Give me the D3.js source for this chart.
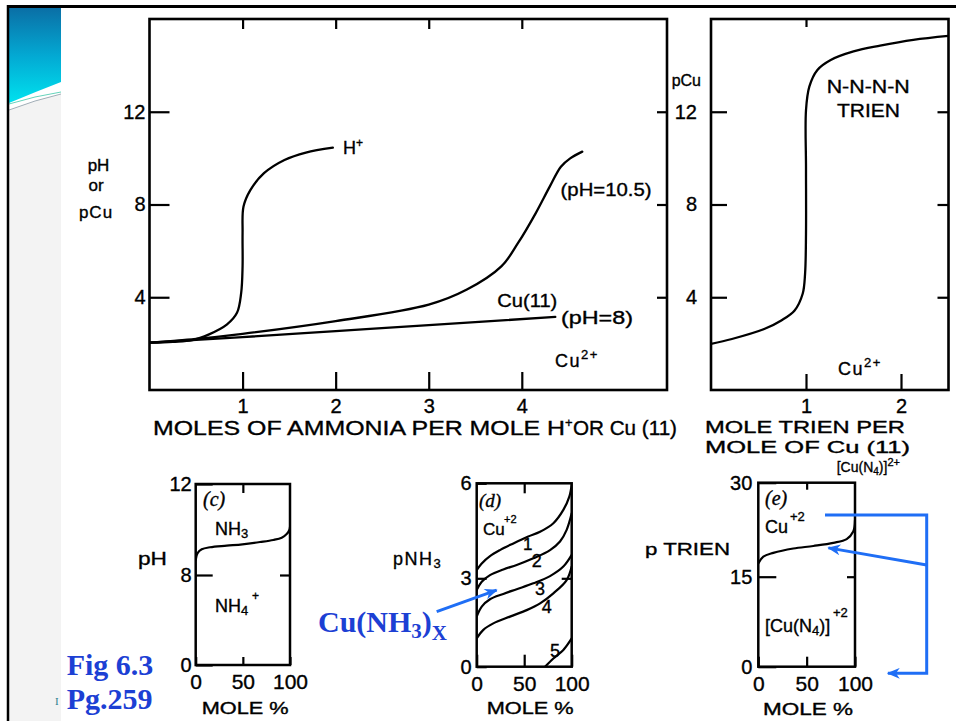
<!DOCTYPE html>
<html><head><meta charset="utf-8">
<script src="https://cdn.jsdelivr.net/npm/d3@7"></script>
<style>
html,body{margin:0;padding:0;background:#fff;}
svg{display:block;}
text{font-family:"Liberation Sans",Arial,Helvetica,sans-serif;fill:#000;stroke:#000;stroke-width:0.35px;}
</style></head><body>
<svg id="c" width="956" height="721"></svg>
<script>
// ---------------- DATA ----------------
// (a) titration curves, x = moles NH3 per mole H+ or Cu(II), y = pH or pCu
const mainXTicks = [1, 2, 3, 4];
const mainYTicks = [4, 8, 12];
const hPlusX = [0, 0.25, 0.46, 0.64, 0.83, 0.94, 0.985, 1.0, 1.0, 1.01, 1.085, 1.23, 1.45, 1.68, 1.97];
const hPlusY = [2.04, 2.08, 2.15, 2.4, 2.82, 3.33, 4.19, 5.33, 6.77, 7.91, 8.63, 9.35, 9.92, 10.24, 10.45];
const cuPh105X = [0, 0.5, 1.0, 2.0, 3.0, 3.41, 3.78, 3.96, 4.15, 4.3, 4.42, 4.52, 4.65];
const cuPh105Y = [2.04, 2.2, 2.42, 2.97, 3.68, 4.33, 5.33, 6.34, 7.63, 8.77, 9.63, 9.99, 10.28];
const cuPh8X = [0, 1, 2, 3, 4.36];
const cuPh8Y = [2.04, 2.28, 2.54, 2.8, 3.15];
// (b) trien titration
const trienXTicks = [1, 2];
const trienYTicks = [4, 8, 12];
const trienX = [0, 0.22, 0.56, 0.74, 0.88, 0.965, 0.99, 1.0, 1.0, 1.0, 1.035, 1.12, 1.26, 1.5, 1.78, 2.13, 2.5];
const trienY = [1.99, 2.2, 2.63, 3.0, 3.43, 4.15, 5.0, 6.74, 9.6, 12.07, 13.08, 13.8, 14.23, 14.6, 14.85, 15.1, 15.27];
// (c) NH3 / NH4+
const moleTicks = [0, 50, 100];
const panelCYTicks = [0, 8, 12];
const nh3X = [0, 1.8, 6.4, 15.2, 32.9, 49.5, 68.2, 82.3, 91.2, 96.5, 99.3, 100];
const nh3Y = [8.66, 8.95, 9.13, 9.22, 9.29, 9.35, 9.45, 9.54, 9.64, 9.8, 9.98, 10.12];
// (d) Cu(NH3)x boundaries
const panelDYTicks = [0, 3, 6];
const cuAmm1X = [0, 5.3, 14, 24.5, 38.6, 53.6, 66.7, 80.7, 91.2, 97.5, 100];
const cuAmm1Y = [3.26, 3.47, 3.7, 3.89, 4.1, 4.31, 4.47, 4.74, 5.16, 5.58, 5.95];
const cuAmm2X = [0, 5.3, 14, 28, 42.1, 59.6, 77.2, 87.7, 94.7, 100];
const cuAmm2Y = [2.6, 2.88, 3.1, 3.28, 3.42, 3.63, 3.89, 4.16, 4.53, 5.05];
const cuAmm3X = [0, 5.3, 14, 28, 42.1, 59.6, 77.2, 91.2, 100];
const cuAmm3Y = [1.7, 2.04, 2.29, 2.47, 2.63, 2.83, 3.07, 3.37, 3.74];
const cuAmm4X = [0, 7, 17.5, 35, 52.6, 66.7, 80.7, 94.7, 100];
const cuAmm4Y = [0.96, 1.25, 1.47, 1.7, 1.92, 2.15, 2.49, 2.94, 3.37];
const cuAmm5X = [71.9, 80.7, 91.2, 100];
const cuAmm5Y = [0, 0.28, 0.57, 0.96];
// (e) p TRIEN
const panelEYTicks = [0, 15, 30];
const pTrienX = [0, 5.2, 15.5, 36.2, 56.9, 77.6, 91.4, 98.2, 100];
const pTrienY = [17.1, 18.2, 18.8, 19.5, 19.9, 20.4, 21.0, 22.2, 24.0];

// ---------------- SCALES ----------------
const xA = d3.scaleLinear().domain([0, 5.56]).range([149.5, 667]);
const yA = d3.scaleLinear().domain([0, 16]).range([390, 19]);
const xB = d3.scaleLinear().domain([0, 2.5]).range([711, 948.5]);
const yB = d3.scaleLinear().domain([0, 16]).range([390, 19]);
const xC = d3.scaleLinear().domain([0, 100]).range([195.7, 290]);
const yC = d3.scaleLinear().domain([0, 8, 12]).range([665, 575, 484]);
const xD = d3.scaleLinear().domain([0, 100]).range([476.7, 571.7]);
const yD = d3.scaleLinear().domain([0, 3, 6]).range([666.7, 578.3, 483.3]);
const xE = d3.scaleLinear().domain([0, 100]).range([758.3, 855]);
const yE = d3.scaleLinear().domain([0, 15, 30]).range([666.7, 576.7, 482.7]);

const svg = d3.select("#c");
const defs = svg.append("defs");
const BLUE_T = "#1c40d4", BLUE_A = "#1f6ef5";

// ---------------- PAGE DECORATION ----------------
const grad = defs.append("linearGradient").attr("id", "strip").attr("gradientUnits", "userSpaceOnUse")
  .attr("x1", 0).attr("y1", 8).attr("x2", 0).attr("y2", 104);
grad.append("stop").attr("offset", 0).attr("stop-color", "#0a6fa6");
grad.append("stop").attr("offset", 0.5).attr("stop-color", "#03a9d3");
grad.append("stop").attr("offset", 1).attr("stop-color", "#00e3ef");
svg.append("path").attr("d", "M9,110 Q35,100 61,94 L61,721 L9,721 Z").attr("fill", "#f3f3f3");
svg.append("path").attr("d", "M9,8 L61,8 L61,82 Q35,92 9,103 Z").attr("fill", "url(#strip)");
svg.append("path").attr("d", "M9,104 Q35,96 61,92").attr("fill", "none").attr("stroke", "#3cc7a8").attr("stroke-width", 0.8);
svg.append("path").attr("d", "M9,110 Q35,100 61,94").attr("fill", "none").attr("stroke", "#8a9aa6").attr("stroke-width", 0.8);
svg.append("line").attr("x1", 7).attr("x2", 956).attr("y1", 6.5).attr("y2", 6.5).attr("stroke", "#000").attr("stroke-width", 3);
svg.append("line").attr("x1", 8).attr("x2", 8).attr("y1", 5).attr("y2", 721).attr("stroke", "#000").attr("stroke-width", 2.5);

// ---------------- HELPERS ----------------
function rich(g, x, y, parts, o = {}) {
  const t = g.append("text").attr("x", x).attr("y", y);
  if (o.anchor) t.attr("text-anchor", o.anchor);
  if (o.family) t.style("font-family", o.family);
  if (o.weight) t.attr("font-weight", o.weight);
  if (o.italic) t.attr("font-style", "italic");
  if (o.fill) t.style("fill", o.fill).style("stroke", "none");
  if (o.ls) t.attr("letter-spacing", o.ls);
  let cur = 0;
  parts.forEach(p => {
    const off = p.off || 0;
    t.append("tspan").attr("dy", off - cur).attr("font-size", p.fs).text(p.t);
    cur = off;
  });
  if (o.len) t.attr("textLength", o.len).attr("lengthAdjust", "spacingAndGlyphs");
  return t;
}
function lab(g, x, y, s, fs, o = {}) { return rich(g, x, y, [{ t: s, fs: fs }], o); }

let clipN = 0;
function panel(p) {
  const g = svg.append("g");
  const [x0, x1] = p.x.range();
  const yr = p.y.range(); const yb = yr[0], yt = yr[yr.length - 1];
  const style = (s, fs) => {
    s.select(".domain").remove();
    s.selectAll(".tick line").attr("stroke", "#000").attr("stroke-width", p.tw || 2.2);
    s.selectAll(".tick text").attr("font-size", fs || 18);
  };
  if (p.left) g.append("g").attr("transform", `translate(${x0},0)`)
    .call(d3.axisLeft(p.y).tickValues(p.left.ticks).tickSize(-p.left.size).tickPadding(p.left.pad).tickFormat(d => d))
    .call(s => style(s, p.left.fs));
  if (p.right) g.append("g").attr("transform", `translate(${x1},0)`)
    .call(d3.axisRight(p.y).tickValues(p.right.ticks).tickSize(-p.right.size).tickFormat(""))
    .call(s => style(s));
  if (p.bottom) g.append("g").attr("transform", `translate(0,${yb})`)
    .call(d3.axisBottom(p.x).tickValues(p.bottom.ticks).tickSize(-p.bottom.size).tickPadding(p.bottom.pad).tickFormat(d => d))
    .call(s => style(s, p.bottom.fs));
  if (p.top) g.append("g").attr("transform", `translate(0,${yt})`)
    .call(d3.axisTop(p.x).tickValues(p.top.ticks).tickSize(-p.top.size).tickFormat(""))
    .call(s => style(s));
  const id = "clip" + (clipN++);
  defs.append("clipPath").attr("id", id).append("rect")
    .attr("x", x0).attr("y", yt).attr("width", x1 - x0).attr("height", yb - yt);
  const line = d3.line().x(d => p.x(d[0])).y(d => p.y(d[1])).curve(d3.curveCatmullRom.alpha(0.5));
  (p.series || []).forEach(([xs, ys]) => {
    g.append("path").attr("d", line(d3.zip(xs, ys))).attr("fill", "none")
      .attr("stroke", "#000").attr("stroke-width", p.lw || 2.3)
      .attr("stroke-linejoin", "round").attr("stroke-linecap", "round")
      .attr("clip-path", `url(#${id})`);
  });
  g.append("rect").attr("x", x0).attr("y", yt).attr("width", x1 - x0).attr("height", yb - yt)
    .attr("fill", "none").attr("stroke", "#000").attr("stroke-width", p.fw || 2.6);
  return g;
}

// ---------------- PANELS ----------------
panel({ x: xA, y: yA,
  left: { ticks: mainYTicks, size: 20, pad: 4, fs: 20 }, right: { ticks: mainYTicks, size: 10 },
  bottom: { ticks: mainXTicks, size: 18, pad: 8.5, fs: 20 }, top: { ticks: mainXTicks, size: 10 },
  series: [[hPlusX, hPlusY], [cuPh105X, cuPh105Y], [cuPh8X, cuPh8Y]] });
panel({ x: xB, y: yB,
  left: { ticks: trienYTicks, size: 16, pad: 14, fs: 20 }, right: { ticks: trienYTicks, size: 11 },
  bottom: { ticks: trienXTicks, size: 16, pad: 8.5, fs: 20 }, top: { ticks: [1], size: 8 },
  series: [[trienX, trienY]] });
panel({ x: xC, y: yC, fw: 2.5, lw: 2.2,
  left: { ticks: panelCYTicks, size: 17, pad: 4, fs: 20 }, right: { ticks: [8], size: 10 },
  bottom: { ticks: moleTicks, size: 8, pad: 9, fs: 21 }, top: { ticks: [50], size: 9 },
  series: [[nh3X, nh3Y]] });
panel({ x: xD, y: yD, fw: 2.5, lw: 2.2,
  left: { ticks: panelDYTicks, size: 10, pad: 5, fs: 20 }, right: { ticks: [3], size: 10 },
  bottom: { ticks: moleTicks, size: 12, pad: 9, fs: 21 }, top: { ticks: [50], size: 10 },
  series: [[cuAmm1X, cuAmm1Y], [cuAmm2X, cuAmm2Y], [cuAmm3X, cuAmm3Y], [cuAmm4X, cuAmm4Y], [cuAmm5X, cuAmm5Y]] });
panel({ x: xE, y: yE, fw: 2.5, lw: 2.2,
  left: { ticks: panelEYTicks, size: 18, pad: 6, fs: 20 }, right: { ticks: [15], size: 8 },
  bottom: { ticks: moleTicks, size: 10, pad: 9, fs: 21 }, top: { ticks: [50], size: 7 },
  series: [[pTrienX, pTrienY]] });

// ---------------- TEXT: (a) ----------------
const T = svg.append("g");
lab(T, 98.5, 171, "pH", 17, { anchor: "middle" });
lab(T, 96, 191, "or", 17, { anchor: "middle" });
lab(T, 96, 218, "pCu", 17, { anchor: "middle", ls: 1 });
lab(T, 153, 435, "MOLES OF AMMONIA PER MOLE H", 20, { len: 412 });
lab(T, 565, 427, "+", 13);
lab(T, 573, 435, "OR Cu (11)", 20, { len: 104 });
rich(T, 343, 153.5, [{ t: "H", fs: 18 }, { t: "+", fs: 12, off: -7 }]);
lab(T, 560.6, 196, "(pH=10.5)", 18, { len: 91 });
lab(T, 497.3, 307, "Cu(11)", 18, { len: 60 });
lab(T, 561, 324, "(pH=8)", 18, { len: 72 });
rich(T, 555, 367, [{ t: "Cu", fs: 18 }, { t: "2+", fs: 13, off: -8 }], { ls: 1.5 });
// ---------------- TEXT: (b) ----------------
lab(T, 701, 86, "pCu", 16, { anchor: "end" });
lab(T, 826.7, 93, "N-N-N-N", 19, { len: 83 });
lab(T, 837, 116.7, "TRIEN", 19, { len: 63 });
rich(T, 838, 375, [{ t: "Cu", fs: 18 }, { t: "2+", fs: 13, off: -8 }], { ls: 1.5 });
lab(T, 705, 433, "MOLE TRIEN PER", 17, { len: 200 });
lab(T, 705, 453, "MOLE OF Cu (11)", 17, { len: 205 });
rich(T, 836.7, 472, [{ t: "[Cu(N", fs: 14 }, { t: "4", fs: 10, off: 3 }, { t: ")]", fs: 14 }, { t: "2+", fs: 11, off: -6 }]);
// ---------------- TEXT: (c) ----------------
lab(T, 138, 565, "pH", 18, { len: 29 });
lab(T, 203, 506, "(c)", 20, { italic: true, family: "'Liberation Serif','Times New Roman',serif" });
rich(T, 215, 535, [{ t: "NH", fs: 18 }, { t: "3", fs: 13, off: 3 }]);
rich(T, 215, 611.7, [{ t: "NH", fs: 18 }, { t: "4", fs: 13, off: 3 }]);
lab(T, 252, 600, "+", 12);
lab(T, 201.7, 714, "MOLE %", 17, { len: 87 });
// ---------------- TEXT: (d) ----------------
rich(T, 393, 565, [{ t: "pNH", fs: 18 }, { t: "3", fs: 13, off: 3 }], { ls: 1.5 });
lab(T, 479, 507, "(d)", 19, { italic: true, family: "'Liberation Serif','Times New Roman',serif" });
lab(T, 504, 523, "+2", 11);
lab(T, 483, 535, "Cu", 17);
lab(T, 527.7, 550, "1", 17, { anchor: "middle" });
lab(T, 536.7, 566.7, "2", 18, { anchor: "middle" });
lab(T, 540, 595, "3", 18, { anchor: "middle" });
lab(T, 546.7, 613, "4", 18, { anchor: "middle" });
lab(T, 555, 657, "5", 18, { anchor: "middle" });
lab(T, 486.7, 714, "MOLE %", 17, { len: 87 });
// ---------------- TEXT: (e) ----------------
lab(T, 645, 555, "p TRIEN", 17, { len: 85 });
lab(T, 765, 505, "(e)", 20, { italic: true, family: "'Liberation Serif','Times New Roman',serif" });
lab(T, 765, 533, "Cu", 18);
lab(T, 790, 521, "+2", 13);
rich(T, 765, 632, [{ t: "[Cu(N", fs: 18 }, { t: "4", fs: 13, off: 3 }, { t: ")]", fs: 18 }]);
lab(T, 833, 617, "+2", 13);
lab(T, 763, 715, "MOLE %", 17, { len: 90 });

// ---------------- BLUE ANNOTATIONS ----------------
defs.append("marker").attr("id", "ah").attr("viewBox", "0 0 12 10").attr("refX", 11).attr("refY", 5)
  .attr("markerWidth", 5.5).attr("markerHeight", 3.6).attr("orient", "auto")
  .append("path").attr("d", "M0,0 L12,5 L0,10 L3.5,5 Z").attr("fill", BLUE_A);
const serif = "'Liberation Serif','Times New Roman',serif";
rich(T, 318, 632, [{ t: "Cu(NH", fs: 30 }, { t: "3", fs: 21, off: 6 }, { t: ")", fs: 30 }, { t: "X", fs: 21, off: 8 }],
  { family: serif, weight: "bold", fill: BLUE_T });
lab(T, 66.7, 675, "Fig 6.3", 30, { family: serif, weight: "bold", fill: BLUE_T });
lab(T, 66.7, 709, "Pg.259", 30, { family: serif, weight: "bold", fill: BLUE_T });
lab(T, 55, 705, "I", 11, { family: serif, fill: "#2b7f8f" });
const A = svg.append("g").attr("fill", "none").attr("stroke", BLUE_A).attr("stroke-width", 3);
A.append("path").attr("d", `M436.7,611.7 L${xD(21)},${yD(2.6)}`).attr("marker-end", "url(#ah)");
A.append("path").attr("d", `M825,515 H926.7 V673.3 H${xE(134)}`).attr("marker-end", "url(#ah)");
A.append("path").attr("d", `M926.7,565 L${xE(72.5)},${yE(19.6)}`).attr("marker-end", "url(#ah)");
</script>
</body></html>
